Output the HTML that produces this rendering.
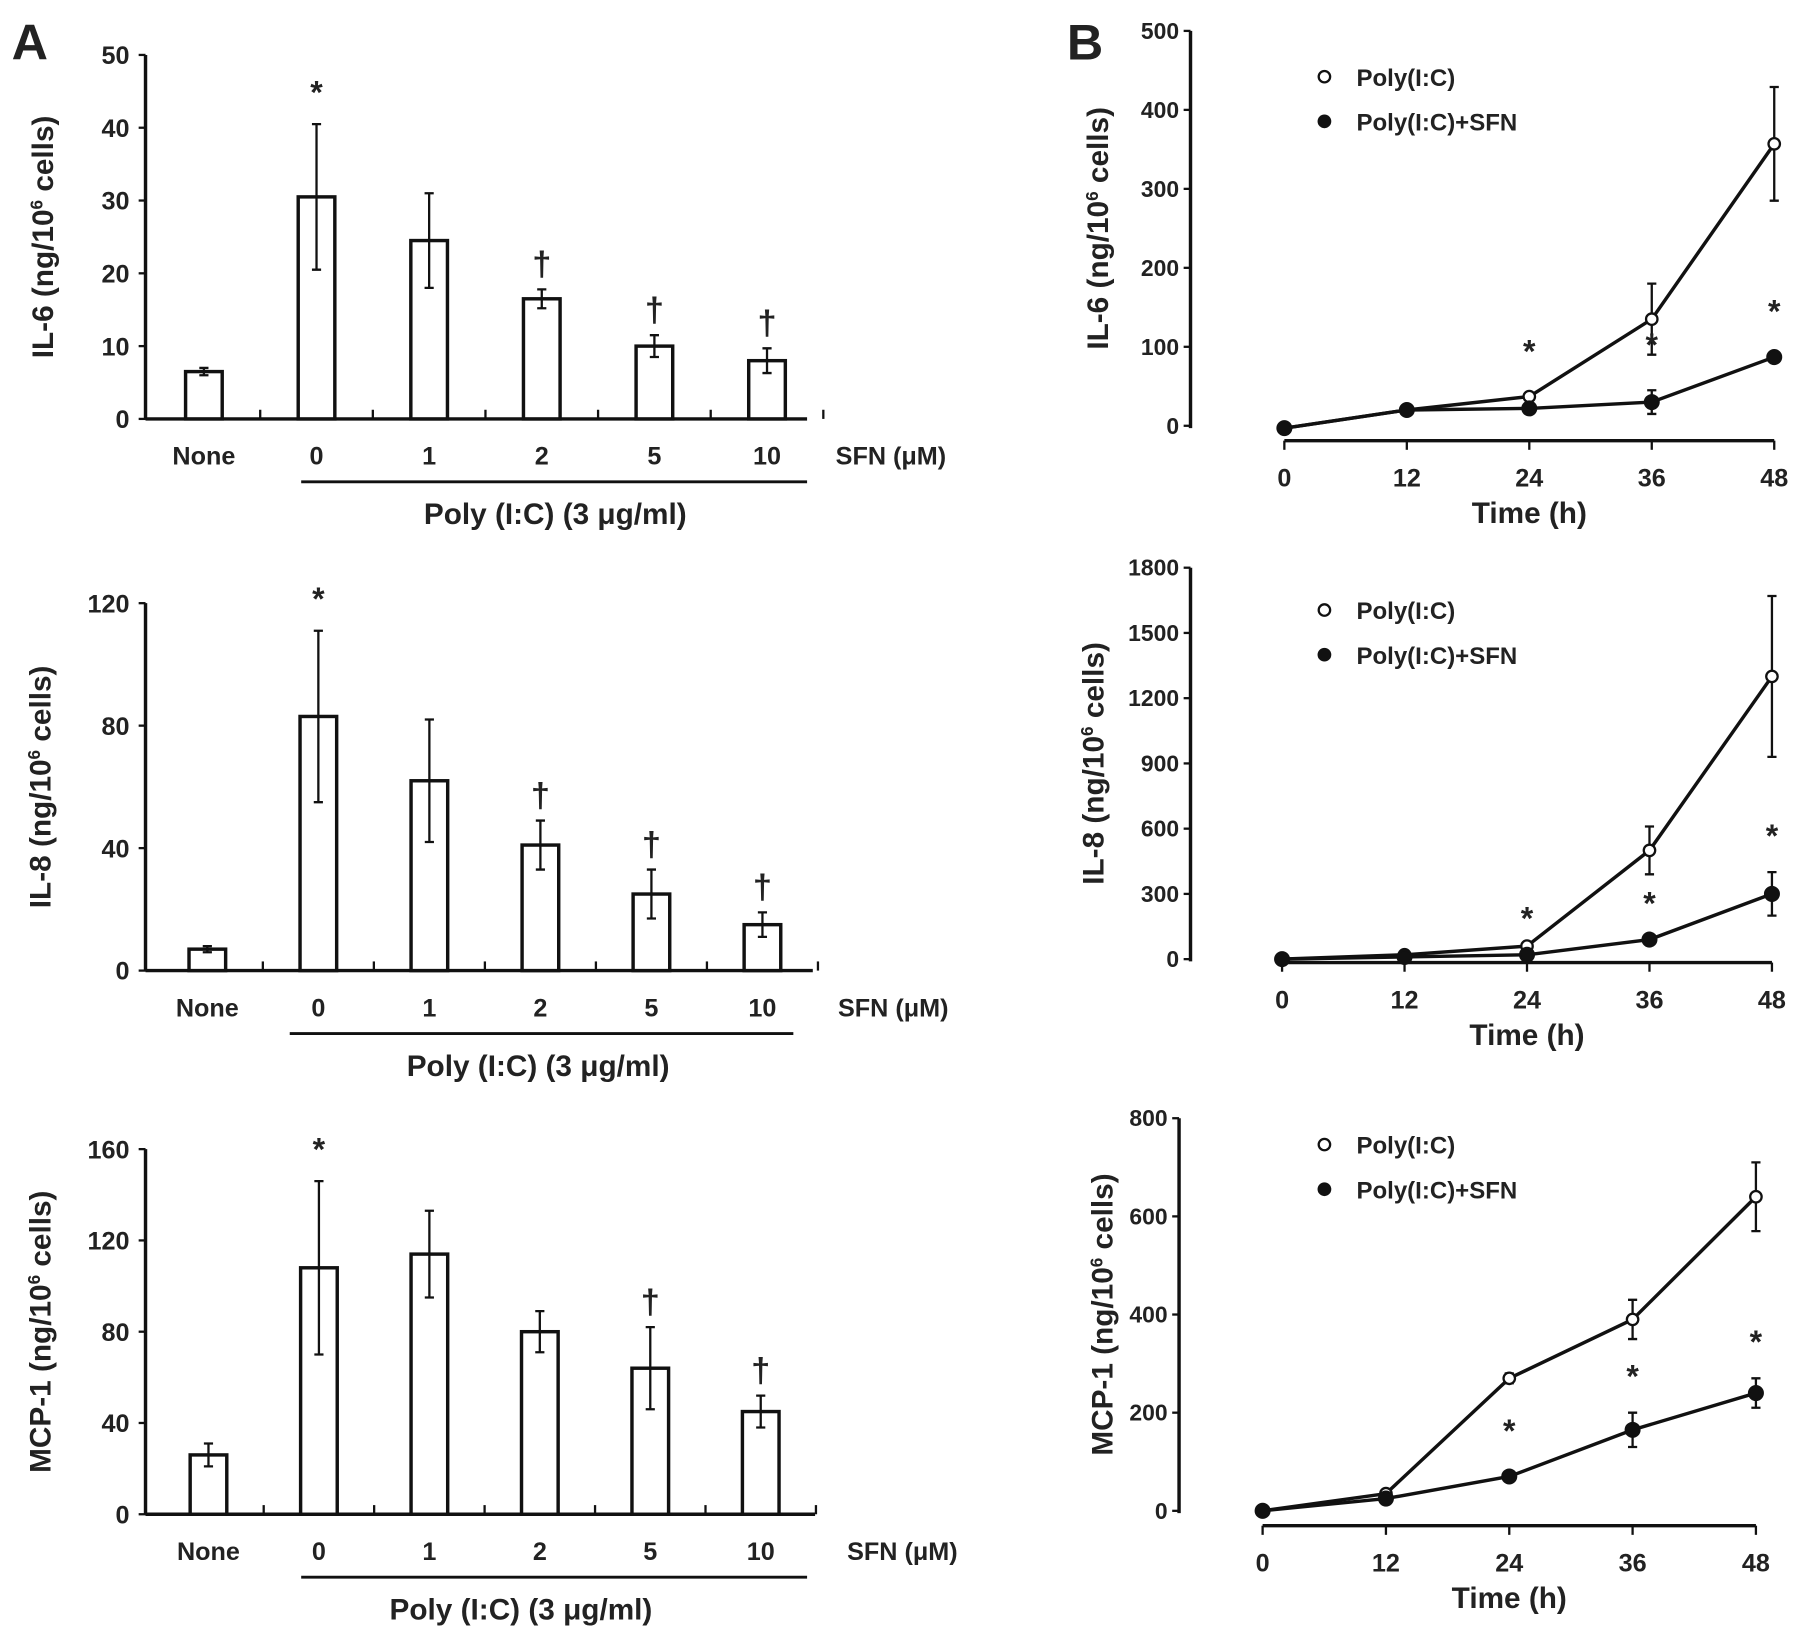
<!DOCTYPE html>
<html><head><meta charset="utf-8"><style>
html,body{margin:0;padding:0;background:#fff}
svg{display:block}
text{font-family:"Liberation Sans",Arial,sans-serif;font-weight:bold;fill:#222}
</style></head><body>
<svg id="fig" width="1795" height="1631" viewBox="0 0 1568 1425">
<text x="10" y="52" font-size="44">A</text>
<text x="932" y="52" font-size="44">B</text>
</svg>
<script>
// ---- Panel A data ----
const barCats = ["None","0","1","2","5","10"];
const il6Vals = [6.5,30.5,24.5,16.5,10,8];
const il6Errs = [0.5,10,6.5,1.3,1.5,1.7];
const il6Marks = ["","*","","†","†","†"];
const il8Vals = [7,83,62,41,25,15];
const il8Errs = [1,28,20,8,8,4];
const il8Marks = ["","*","","†","†","†"];
const mcpVals = [26,108,114,80,64,45];
const mcpErrs = [5,38,19,9,18,7];
const mcpMarks = ["","*","","","†","†"];
const il6Ticks = [0,10,20,30,40,50];
const il8Ticks = [0,40,80,120];
const mcpTicks = [0,40,80,120,160];
// ---- Panel B data ----
const times = [0,12,24,36,48];
const timeTicks = [0,12,24,36,48];
const bIl6Open = [-3,20,37,135,357];
const bIl6OpenErr = [0,0,0,45,72];
const bIl6Fill = [-3,20,22,30,87];
const bIl6FillErr = [0,0,0,15,0];
const bIl6Stars = [false,false,true,true,true];
const bIl6Ticks = [0,100,200,300,400,500];
const bIl8Open = [0,20,60,500,1300];
const bIl8OpenErr = [0,0,0,110,370];
const bIl8Fill = [0,10,20,90,300];
const bIl8FillErr = [0,0,0,0,100];
const bIl8Stars = [false,false,true,true,true];
const bIl8Ticks = [0,300,600,900,1200,1500,1800];
const bMcpOpen = [0,35,270,390,640];
const bMcpOpenErr = [0,0,10,40,70];
const bMcpFill = [0,25,70,165,240];
const bMcpFillErr = [0,0,0,35,30];
const bMcpStars = [false,false,true,true,true];
const bMcpTicks = [0,200,400,600,800];

const svg=document.getElementById('fig');
const NS='http://www.w3.org/2000/svg';
function el(tag,attrs,txt){const e=document.createElementNS(NS,tag);for(const k in attrs)e.setAttribute(k,attrs[k]);if(txt!==undefined)e.textContent=txt;svg.appendChild(e);return e;}

function barPanel(o){
  const y=v=>o.y0-(v/o.max)*(o.y0-o.yTop);
  const ax=el('line',{x1:o.ax,y1:o.yTop,x2:o.ax,y2:o.y0,stroke:'#111','stroke-width':3});
  
  
  const xa=el('line',{x1:o.ax,y1:o.y0,x2:o.xEnd,y2:o.y0,stroke:'#111','stroke-width':3});
  
  
  o.ticks.forEach(t=>{
    const ty=y(t);
    const l=el('line',{x1:o.ax-6,y1:ty,x2:o.ax,y2:ty,stroke:'#111','stroke-width':2});
    
    
    const tx=el('text',{x:o.ax-14,y:ty+8,'font-size':22,'text-anchor':'end'},t);
    
    
  });
  const step=o.step;
  for(let i=0;i<barCats.length;i++){
    const cx=o.x0+i*step, sep=cx+step/2;
    const tk=el('line',{x1:sep,y1:o.y0,x2:sep,y2:o.y0-8,stroke:'#111','stroke-width':2});
    
    
    const v=o.vals[i],e=o.errs[i];
    const r=el('rect',{x:cx-16,y:y(v),width:32,height:o.y0-y(v),fill:'#fff',stroke:'#111','stroke-width':3});
    
    
    const eb=el('path',{d:`M${cx},${y(v-e)}V${y(v+e)}M${cx-4},${y(v+e)}H${cx+4}M${cx-4},${y(v-e)}H${cx+4}`,stroke:'#111','stroke-width':2,fill:'none'});
    
    
    if(o.marks[i]){
      const m=el('text',{x:cx,y:y(v+e)-(o.marks[i]==='*'?18:12),'font-size':o.marks[i]==='*'?28:30,'text-anchor':'middle'},o.marks[i]);
      
      
    }
    const lb=el('text',{x:cx,y:o.y0+40,'font-size':22,'text-anchor':'middle'},barCats[i]);
    
    
  }
  const s=el('text',{x:o.sfnX,y:o.y0+40,'font-size':22},'SFN (μM)');
  
  
  const ul=el('line',{x1:o.ulX1,y1:o.y0+55,x2:o.ulX2,y2:o.y0+55,stroke:'#111','stroke-width':2.5});
  
  
  const pt=el('text',{x:o.polyX,y:o.y0+92,'font-size':26,'text-anchor':'middle'},'Poly (I:C) (3 μg/ml)');
  
  
  const yt=el('text',{x:0,y:0,'font-size':26,'text-anchor':'middle',transform:`translate(${o.titleX},${(o.yTop+o.y0)/2}) rotate(-90)`,fill:'#444'});
  yt.innerHTML=o.title+' (ng/10<tspan dy="-9" font-size="15">6</tspan><tspan dy="9"> cells)</tspan>';
  
  
}

barPanel({id:'il6',ax:127,yTop:48,y0:366,max:50,xEnd:705,x0:178,step:98.4,vals:il6Vals,errs:il6Errs,marks:il6Marks,ticks:il6Ticks,sfnX:730,ulX1:263,ulX2:705,polyX:485,titleX:46,title:'IL-6'});
barPanel({id:'il8',ax:127,yTop:527,y0:848,max:120,xEnd:710,x0:181,step:97,vals:il8Vals,errs:il8Errs,marks:il8Marks,ticks:il8Ticks,sfnX:732,ulX1:253,ulX2:693,polyX:470,titleX:44,title:'IL-8'});
barPanel({id:'mcp1',ax:127,yTop:1004,y0:1323,max:160,xEnd:712,x0:182,step:96.5,vals:mcpVals,errs:mcpErrs,marks:mcpMarks,ticks:mcpTicks,sfnX:740,ulX1:263,ulX2:705,polyX:455,titleX:44,title:'MCP-1'});

function linePanel(o){
  const y=v=>o.y0-(v/o.max)*(o.y0-o.yTop);
  const x=t=>o.x0+(t/48)*(o.x48-o.x0);
  const ax=el('line',{x1:o.ax,y1:o.yTop,x2:o.ax,y2:o.y0+2,stroke:'#111','stroke-width':3});
  
  
  const xa=el('line',{x1:o.x0,y1:o.xaY,x2:o.x48,y2:o.xaY,stroke:'#111','stroke-width':3});
  
  
  o.ticks.forEach(t=>{
    const ty=y(t);
    const l=el('line',{x1:o.ax-6,y1:ty,x2:o.ax,y2:ty,stroke:'#111','stroke-width':2});
    
    
    const tx=el('text',{x:o.ax-10,y:ty+7,'font-size':20,'text-anchor':'end'},t);
    
    
  });
  timeTicks.forEach(t=>{
    const l=el('line',{x1:x(t),y1:o.xaY,x2:x(t),y2:o.xaY+8,stroke:'#111','stroke-width':2});
    
    
    const tx=el('text',{x:x(t),y:o.xaY+40,'font-size':22,'text-anchor':'middle'},t);
    
    
  });
  const tt=el('text',{x:(o.x0+o.x48)/2,y:o.xaY+72,'font-size':26,'text-anchor':'middle'},'Time (h)');
  
  
  [[o.open,o.openErr,'open'],[o.fill,o.fillErr,'filled']].forEach(([vals,errs,kind])=>{
    const pl=el('polyline',{points:times.map((t,i)=>x(t)+','+y(vals[i])).join(' '),fill:'none',stroke:'#111','stroke-width':3});
    
    
    times.forEach((t,i)=>{
      if(errs[i]>0){
        const eb=el('path',{d:`M${x(t)},${y(vals[i]-errs[i])}V${y(vals[i]+errs[i])}M${x(t)-4},${y(vals[i]+errs[i])}H${x(t)+4}M${x(t)-4},${y(vals[i]-errs[i])}H${x(t)+4}`,stroke:'#111','stroke-width':2,fill:'none'});
        
        
      }
      const c=el('circle',{cx:x(t),cy:y(vals[i]),r:kind==='open'?5:6,fill:kind==='open'?'#fff':'#111',stroke:'#111','stroke-width':2});
      
      
    });
  });
  times.forEach((t,i)=>{
    if(o.stars[i]){
      const top=Math.max(o.fill[i]+o.fillErr[i],0);
      const s=el('text',{x:x(t),y:y(top)-o.starGap[i],'font-size':28,'text-anchor':'middle'},'*');
      
      
    }
  });
  const lc1=el('circle',{cx:1157,cy:o.legY,r:5,fill:'#fff',stroke:'#111','stroke-width':2});
  
  
  const lt1=el('text',{x:1185,y:o.legY+8,'font-size':21},'Poly(I:C)');
  
  
  const lc2=el('circle',{cx:1157,cy:o.legY+39,r:6,fill:'#111'});
  
  
  const lt2=el('text',{x:1185,y:o.legY+47,'font-size':21},'Poly(I:C)+SFN');
  
  
  const yt=el('text',{x:0,y:0,'font-size':26,'text-anchor':'middle',transform:`translate(${o.titleX},${(o.yTop+o.y0)/2}) rotate(-90)`,fill:'#444'});
  yt.innerHTML=o.title+' (ng/10<tspan dy="-9" font-size="15">6</tspan><tspan dy="9"> cells)</tspan>';
  
  
}

linePanel({id:'b-il6',ax:1040,yTop:27,y0:372,max:500,xaY:385,x0:1122,x48:1550,open:bIl6Open,openErr:bIl6OpenErr,fill:bIl6Fill,fillErr:bIl6FillErr,stars:bIl6Stars,starGap:[0,0,40,30,30],ticks:bIl6Ticks,legY:67,titleX:968,title:'IL-6'});
linePanel({id:'b-il8',ax:1040,yTop:496,y0:838,max:1800,xaY:841,x0:1120,x48:1548,open:bIl8Open,openErr:bIl8OpenErr,fill:bIl8Fill,fillErr:bIl8FillErr,stars:bIl8Stars,starGap:[0,0,22,22,22],ticks:bIl8Ticks,legY:533,titleX:964,title:'IL-8'});
linePanel({id:'b-mcp1',ax:1030,yTop:977,y0:1320,max:800,xaY:1333,x0:1103,x48:1534,open:bMcpOpen,openErr:bMcpOpenErr,fill:bMcpFill,fillErr:bMcpFillErr,stars:bMcpStars,starGap:[0,0,30,22,22],ticks:bMcpTicks,legY:1000,titleX:972,title:'MCP-1'});
</script>
</body></html>
